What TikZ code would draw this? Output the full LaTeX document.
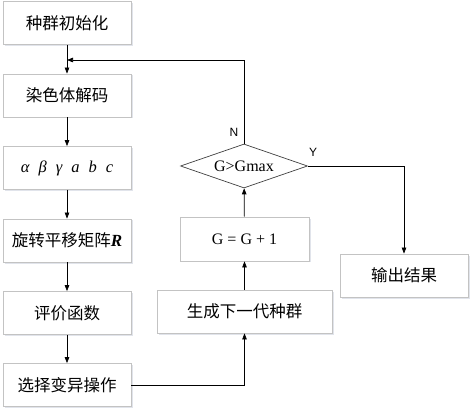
\documentclass[tikz,border=0pt]{standalone}
\usepackage{fontspec}
\setmainfont{Liberation Serif}
\newfontfamily\cjk{Noto Sans CJK SC}
\newfontfamily\lsans{Liberation Sans}
\usetikzlibrary{shapes.geometric,arrows.meta}
\definecolor{boxline}{RGB}{195,195,195}
\definecolor{shadowc}{RGB}{225,228,235}
\tikzset{
  box/.style={draw=boxline, line width=0.8pt, fill=white, rectangle, inner sep=0pt,
    minimum height=43pt, font=\cjk\fontsize{16.5}{19}\selectfont},
  lbox/.style={box, minimum width=128pt},
  decision/.style={draw=black!75, line width=0.7pt, diamond, aspect=2.9, inner sep=0pt,
    minimum width=127pt, minimum height=44pt, font=\rmfamily\fontsize{16}{19}\selectfont},
  flow/.style={draw=black, line width=0.7pt, -{Triangle[length=6pt,width=4.5pt]}},
  plain/.style={draw=black, line width=0.7pt},
  lbl/.style={font=\lsans\fontsize{12}{14}\selectfont, inner sep=0pt}
}
\begin{document}
\begin{tikzpicture}[x=1pt,y=-1pt]
\useasboundingbox (0,0) rectangle (470,411);
% shadows
\foreach \cx/\cy/\w in {67/23/128, 67/95.5/128, 67/168/128, 67/240.5/128, 67/313/128, 67/385/128, 244.5/311.5/175, 244.5/239/129, 404/275.5/128}{
  \fill[shadowc] (\cx-\w/2+1.5,\cy-21.5+1.5) rectangle (\cx+\w/2+1.5,\cy+21.5+1.5);
}
\node[lbox] (b1) at (67,23) {种群初始化};
\node[lbox] (b2) at (67,95.5) {染色体解码};
\node[lbox, font=\rmfamily\fontsize{16.5}{19}\selectfont\itshape] (b3) at (67,168) {α\hspace{9pt}β\hspace{9pt}γ\hspace{9pt}a\hspace{9pt}b\hspace{9pt}c};
\node[lbox] (b4) at (67,240.5) {旋转平移矩阵{\rmfamily\bfseries\itshape\fontsize{17}{19}\selectfont R}};
\node[lbox] (b5) at (67,313) {评价函数};
\node[lbox] (b6) at (67,385) {选择变异操作};
\node[box, minimum width=175pt] (gen) at (244.5,311.5) {生成下一代种群};
\node[box, minimum width=129pt, minimum height=44pt, font=\rmfamily\fontsize{16}{19}\selectfont] (inc) at (244.5,239) {G = G + 1};
\node[decision] (dia) at (244,166) {G>Gmax};
\node[lbox] (out) at (404,275.5) {输出结果};
\coordinate (j) at (67,60);
\node[lbl] (nl) at (234,132) {N};
\node[lbl] (yl) at (313,152) {Y};
% connectors
\draw[flow] (b1) -- (b2);
\draw[flow] (b2) -- (b3);
\draw[flow] (b3) -- (b4);
\draw[flow] (b4) -- (b5);
\draw[flow] (b5) -- (b6);
\draw[flow] (b6.east) -| (gen.south);
\draw[flow] (gen) -- (inc);
\draw[flow] (inc) -- (dia);
\draw[flow] (dia.north) |- (j);
\draw[flow] (dia.east) -| (out.north);
\end{tikzpicture}
\end{document}
